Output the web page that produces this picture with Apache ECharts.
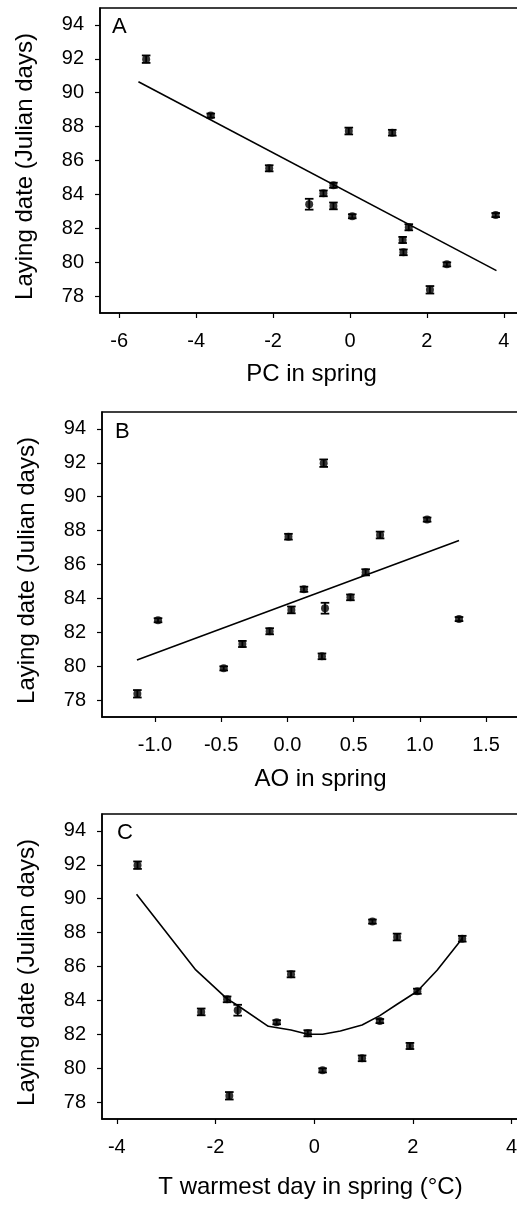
<!DOCTYPE html>
<html>
<head>
<meta charset="utf-8">
<script src="https://cdn.jsdelivr.net/npm/echarts@6/dist/echarts.min.js"></script>
<style>
html,body{margin:0;padding:0;background:#fff;overflow:hidden;}
#chart{width:560px;height:1205px;}
</style>
</head>
<body>
<div id="chart"></div>
<script>
// ---- data (one entry per year, same order in every array) ----
const layingDate = [91.98, 88.65, 87.74, 87.64, 85.54, 84.54, 84.06, 83.42, 83.32, 82.78, 82.71, 82.06, 81.31, 80.58, 79.87, 78.37];
const layingSE   = [0.22, 0.12, 0.20, 0.17, 0.18, 0.15, 0.17, 0.32, 0.20, 0.12, 0.12, 0.18, 0.18, 0.17, 0.12, 0.22];
const pcSpring   = [-5.30, -3.62, -0.03, 1.10, -2.10, -0.43, -0.69, -1.06, -0.43, 3.79, 0.06, 1.53, 1.37, 1.39, 2.52, 2.08];
const aoSpring   = [0.274, 1.055, 0.70, 0.008, 0.591, 0.125, 0.476, 0.284, 0.03, 1.296, -0.977, -0.134, -0.34, 0.261, -0.481, -1.133];
const tWarmest   = [-3.58, 1.18, 1.68, 3.00, -0.47, 2.09, -1.765, -1.55, -2.29, 1.33, -0.76, -0.13, 1.94, 0.97, 0.17, -1.72];

// fitted lines
const fitAx = [-5.50, 3.81];
const fitAy = [90.65, 79.50];
const fitBx = [-1.136, 1.296];
const fitBy = [80.36, 87.42];
const fitCx = [-3.60, -2.40, -1.77, -1.55, -0.93, -0.47, -0.13, 0.17, 0.53, 0.97, 1.33, 1.68, 2.09, 2.49, 3.00];
const fitCy = [90.26, 85.80, 84.10, 83.70, 82.47, 82.25, 82.00, 82.00, 82.19, 82.55, 83.10, 83.77, 84.54, 85.78, 87.65];

// tick labels
const yTicks  = [78, 80, 82, 84, 86, 88, 90, 92, 94];
const xTicksA = [-6, -4, -2, 0, 2, 4];
const xTicksB = [-1.0, -0.5, 0.0, 0.5, 1.0, 1.5];
const xTicksC = [-4, -2, 0, 2, 4];

const panelLetters = ['A', 'B', 'C'];
const xTitles = ['PC in spring', 'AO in spring', 'T warmest day in spring (°C)'];
const yTitle = 'Laying date (Julian days)';

// ---- layout ----
const FONT = "'Liberation Sans', Arial, sans-serif";
const grids = [
  {left: 100, top: 8, width: 423, height: 305},
  {left: 102, top: 412, width: 437, height: 305},
  {left: 102, top: 814, width: 417, height: 305}
];
const letterPos = [[112, 16], [115, 421], [117, 822]];
const xRanges = [[-6.5, 4.5], [-1.4, 1.9], [-4.3, 4.15]];
const xTickSets = [xTicksA, xTicksB, xTicksC];
const xNameGaps = [49, 50, 56];
const xSeries = [pcSpring, aoSpring, tWarmest];
const fits = [[fitAx, fitAy], [fitBx, fitBy], [fitCx, fitCy]];

function zip(xs, ys) { return xs.map((x, i) => [x, ys[i]]); }

function errRender(params, api) {
  const x = api.value(0), y = api.value(1), se = api.value(2);
  const lo = api.coord([x, y - se]);
  const hi = api.coord([x, y + se]);
  const w = 4.3;
  const st = {stroke: '#000', lineWidth: 1.8};
  return {
    type: 'group',
    children: [
      {type: 'line', shape: {x1: lo[0], y1: lo[1], x2: hi[0], y2: hi[1]}, style: st},
      {type: 'line', shape: {x1: lo[0] - w, y1: lo[1], x2: lo[0] + w, y2: lo[1]}, style: st},
      {type: 'line', shape: {x1: hi[0] - w, y1: hi[1], x2: hi[0] + w, y2: hi[1]}, style: st}
    ]
  };
}

const option = {
  backgroundColor: '#fff',
  animation: false,
  textStyle: {fontFamily: FONT, color: '#000'},
  title: panelLetters.map((t, i) => ({
    text: t,
    left: letterPos[i][0],
    top: letterPos[i][1],
    padding: 0,
    textStyle: {fontFamily: FONT, fontSize: 22, fontWeight: 'normal', color: '#000'}
  })),
  grid: grids.map(g => Object.assign({show: true, borderColor: '#000', borderWidth: 1.5, containLabel: false}, g)),
  xAxis: grids.map((g, i) => ({
    type: 'value',
    gridIndex: i,
    min: xRanges[i][0],
    max: xRanges[i][1],
    name: xTitles[i],
    nameLocation: 'middle',
    nameGap: xNameGaps[i],
    nameTextStyle: {fontFamily: FONT, fontSize: 24, color: '#000'},
    axisLine: {show: true, onZero: false, lineStyle: {color: '#000', width: 1.5}},
    axisTick: {show: true, inside: false, length: 5, customValues: xTickSets[i], lineStyle: {color: '#000', width: 1.2}},
    axisLabel: {
      show: true, margin: 18, fontSize: 20, fontFamily: FONT, color: '#000',
      customValues: xTickSets[i],
      formatter: i === 1 ? (v => v.toFixed(1)) : (v => String(v))
    },
    splitLine: {show: false}
  })),
  yAxis: grids.map((g, i) => ({
    type: 'value',
    gridIndex: i,
    min: 77,
    max: 95,
    name: yTitle,
    nameLocation: 'middle',
    nameGap: 63,
    nameTextStyle: {fontFamily: FONT, fontSize: 24, color: '#000', padding: [0, 12, 0, 0]},
    axisLine: {show: true, onZero: false, lineStyle: {color: '#000', width: 1.5}},
    axisTick: {show: true, inside: false, length: 5, customValues: yTicks, lineStyle: {color: '#000', width: 1.2}},
    axisLabel: {show: true, margin: 16, fontSize: 20, fontFamily: FONT, color: '#000', customValues: yTicks},
    splitLine: {show: false}
  })),
  series: []
};

for (let i = 0; i < 3; i++) {
  option.series.push({
    type: 'line',
    xAxisIndex: i, yAxisIndex: i,
    data: zip(fits[i][0], fits[i][1]),
    showSymbol: false,
    smooth: false,
    lineStyle: {color: '#000', width: 1.6},
    z: 2
  });
  option.series.push({
    type: 'custom',
    xAxisIndex: i, yAxisIndex: i,
    renderItem: errRender,
    encode: {x: 0, y: 1},
    data: xSeries[i].map((x, k) => [x, layingDate[k], layingSE[k]]),
    z: 3
  });
  option.series.push({
    type: 'scatter',
    xAxisIndex: i, yAxisIndex: i,
    data: zip(xSeries[i], layingDate),
    symbol: 'circle',
    symbolSize: 8,
    itemStyle: {color: '#000'},
    z: 4
  });
}

const chart = echarts.init(document.getElementById('chart'), null, {renderer: 'canvas'});
chart.setOption(option);
</script>
</body>
</html>
